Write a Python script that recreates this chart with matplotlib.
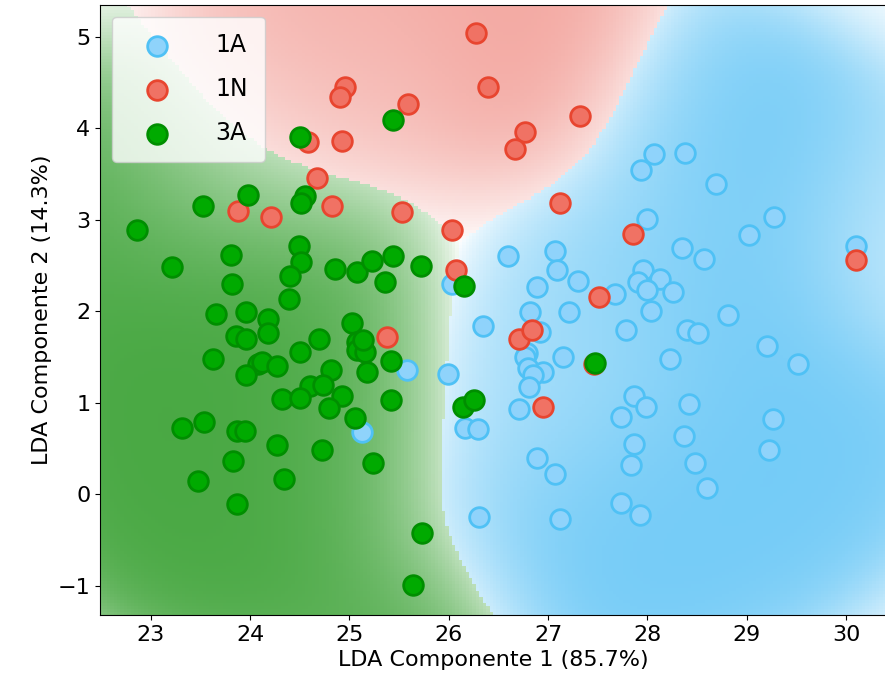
import numpy as np
import matplotlib
matplotlib.use("Agg")
import matplotlib.pyplot as plt

# puntos LDA por clase
x_1A = [28.07, 27.94, 28.38, 28.69, 28.00, 29.27, 29.02, 30.10, 28.35, 28.57,
        27.96, 28.13, 27.90, 28.00, 28.26, 27.67, 28.04, 28.81, 27.78, 28.40,
        28.51, 29.20, 29.52, 28.23, 27.86, 27.99, 28.42, 27.73, 29.26, 28.37,
        27.86, 27.83, 28.48, 28.60, 27.73, 27.93, 29.22, 26.60, 27.07, 27.09,
        26.89, 27.30, 26.82, 27.21, 26.92, 26.34, 26.79, 26.77, 27.15, 26.80,
        26.95, 26.85, 26.81, 25.58, 25.99, 26.71, 26.16, 26.29, 25.13, 26.89,
        27.07, 26.30, 27.12, 26.03]
y_1A = [3.72, 3.55, 3.73, 3.39, 3.01, 3.03, 2.83, 2.72, 2.69, 2.57,
        2.45, 2.35, 2.32, 2.23, 2.21, 2.19, 2.00, 1.96, 1.80, 1.80,
        1.76, 1.62, 1.42, 1.48, 1.08, 0.96, 0.99, 0.85, 0.82, 0.64,
        0.55, 0.32, 0.34, 0.07, -0.09, -0.23, 0.49, 2.60, 2.66, 2.45,
        2.27, 2.33, 1.99, 1.99, 1.77, 1.84, 1.55, 1.50, 1.50, 1.38,
        1.34, 1.31, 1.17, 1.36, 1.32, 0.93, 0.73, 0.72, 0.68, 0.40,
        0.22, -0.25, -0.27, 2.30]

x_1N = [26.27, 26.40, 25.59, 27.32, 26.77, 26.67, 24.96, 24.91, 24.58, 24.93,
        24.67, 23.88, 24.21, 24.83, 25.53, 26.03, 27.12, 26.07, 27.85, 27.51,
        25.38, 26.71, 26.84, 27.46, 26.95, 30.10]
y_1N = [5.04, 4.45, 4.27, 4.14, 3.96, 3.77, 4.45, 4.34, 3.85, 3.86,
        3.46, 3.10, 3.03, 3.15, 3.09, 2.89, 3.18, 2.45, 2.85, 2.16,
        1.72, 1.70, 1.80, 1.42, 0.95, 2.56]

x_3A = [25.44, 24.50, 23.98, 23.53, 24.55, 24.51, 22.86, 23.21, 23.81, 23.82,
        24.49, 24.51, 24.40, 24.39, 24.86, 25.08, 25.23, 25.44, 25.72, 25.36,
        26.15, 23.66, 23.96, 24.18, 24.18, 23.86, 23.96, 25.03, 25.08, 25.08,
        25.16, 24.69, 24.50, 23.63, 24.08, 24.12, 24.27, 23.96, 24.82, 25.18,
        24.60, 24.73, 24.32, 24.50, 24.93, 24.79, 25.06, 23.32, 23.54, 23.87,
        23.95, 24.27, 24.72, 23.83, 23.48, 24.34, 23.87, 25.24, 25.73, 25.64,
        25.14, 25.42, 25.42, 26.14, 26.25, 27.47]
y_3A = [4.09, 3.91, 3.27, 3.15, 3.26, 3.18, 2.89, 2.48, 2.62, 2.30,
        2.71, 2.54, 2.39, 2.14, 2.46, 2.43, 2.55, 2.61, 2.50, 2.32,
        2.28, 1.97, 1.99, 1.92, 1.76, 1.73, 1.70, 1.87, 1.67, 1.58,
        1.56, 1.70, 1.56, 1.48, 1.43, 1.45, 1.40, 1.30, 1.36, 1.34,
        1.18, 1.20, 1.04, 1.05, 1.08, 0.94, 0.83, 0.73, 0.79, 0.69,
        0.69, 0.54, 0.48, 0.36, 0.15, 0.17, -0.11, 0.34, -0.42, -0.99,
        1.69, 1.46, 1.03, 0.95, 1.03, 1.44]

clases = ["1A", "1N", "3A"]
xlim = (22.49, 30.40)
ylim = (-1.32, 5.35)

# region de decision: suma de kernels por clase -> probabilidad
gx = np.linspace(xlim[0], xlim[1], 230)
gy = np.linspace(ylim[0], ylim[1], 200)
GX, GY = np.meshgrid(gx, gy)
h = 0.72
peso = [1.0, 1.15, 1.0]
dens = []
for (xs, ys), w in zip([(x_1A, y_1A), (x_1N, y_1N), (x_3A, y_3A)], peso):
    xs, ys = np.array(xs), np.array(ys)
    d2 = (GX[..., None] - xs) ** 2 + (GY[..., None] - ys) ** 2
    dens.append(w * np.exp(-d2 / (2 * h * h)).sum(-1))
dens = np.array(dens)
c = 0.03
prob = (dens + c) / (dens.sum(0) + 3 * c)
pred = prob.argmax(0)
pmax = prob.max(0)
t = np.clip((pmax - 1 / 3) / (2 / 3), 0, 1) ** 0.7

col_region = np.array([[115, 203, 247], [243, 165, 158], [72, 168, 66]]) / 255.0
rgb = 1 - t[..., None] * (1 - col_region[pred])

fig = plt.figure(figsize=(8.85, 6.92), dpi=100)
ax = fig.add_axes([0.113, 0.111, 0.888, 0.882])
ax.imshow(rgb, extent=[xlim[0], xlim[1], ylim[0], ylim[1]], origin="lower",
          aspect="auto", interpolation="nearest")

ax.scatter(x_1A, y_1A, s=200, c="#8fd3fb", edgecolors="#4fc1f5", linewidths=2, label="1A", zorder=3)
ax.scatter(x_1N, y_1N, s=200, c="#f07264", edgecolors="#e8452f", linewidths=2, label="1N", zorder=4)
ax.scatter(x_3A, y_3A, s=200, c="#00aa00", edgecolors="#008e00", linewidths=2, label="3A", zorder=5)

ax.set_xlim(xlim)
ax.set_ylim(ylim)
ax.set_xticks(range(23, 31))
ax.set_yticks(range(-1, 6))
ax.tick_params(labelsize=16)
ax.set_xlabel("LDA Componente 1 (85.7%)", fontsize=16)
ax.set_ylabel("LDA Componente 2 (14.3%)", fontsize=16)
ax.legend(loc="upper left", fontsize=17, borderpad=0.7, handlelength=2.4,
          handletextpad=1.3, labelspacing=0.85)

fig.savefig("out.png", dpi=100)
